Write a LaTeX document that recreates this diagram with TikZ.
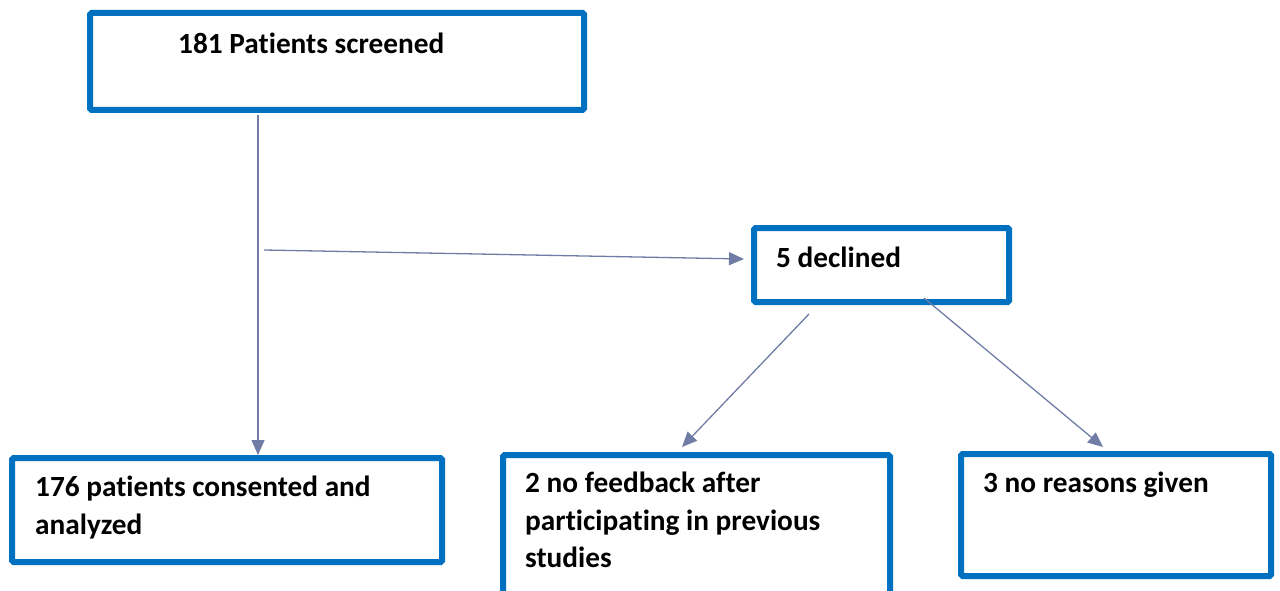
\documentclass[tikz,border=0pt]{standalone}
\usepackage{fontspec}
\setmainfont{Carlito}[Ligatures=NoCommon]
\usetikzlibrary{arrows.meta}
\definecolor{boxblue}{RGB}{0,112,192}
\definecolor{arrgray}{RGB}{112,124,166}
\begin{document}
\begin{tikzpicture}[x=1pt,y=-1pt,
  flowbox/.style={draw=boxblue, line width=6pt, rounded corners=1.5pt, rectangle, inner sep=0pt, fill=white},
  txt/.style={anchor=north west, inner sep=0pt, align=left, font=\fontsize{29.3}{37.5}\selectfont\bfseries},
  arr/.style={draw=arrgray, line width=1.3pt, -{Triangle[length=15pt,width=13pt]}}]
\useasboundingbox (0,0) rectangle (1280,591);
% boxes (centre, border centre-line size)
\node[flowbox, minimum width=494pt, minimum height=97pt] (screen) at (337,61.5) {};
\node[flowbox, minimum width=255pt, minimum height=74pt] (decl) at (881.5,265) {};
\node[flowbox, minimum width=430pt, minimum height=104pt] (consent) at (227,510) {};
\node[flowbox, minimum width=387pt, minimum height=142pt] (feedback) at (696.5,526) {};
\node[flowbox, minimum width=310pt, minimum height=122pt] (reasons) at (1116,515) {};
% texts (top = baseline - strut height)
\node[txt] (t1) at (178,27.3) {\strut 181 Patients screened};
\node[txt] (t2) at (776,241.3) {\strut 5 declined};
\node[txt] (t3) at (35,470.3) {\strut 176 patients consented and\\analyzed};
\node[txt] (t4) at (525,466.3) {\strut 2 no feedback after\\participating in previous\\studies};
\node[txt] (t5) at (983,466.3) {\strut 3 no reasons given};
% connector start points
\coordinate (v1) at (258,115);
\coordinate (h1) at (264,250);
\coordinate (d1) at (809,314);
\coordinate (d2) at (924,298);
% connectors
\draw[arr] (v1) -- (v1 |- consent.north);
\draw[arr] (h1) -- ([xshift=-7pt,yshift=6pt]decl.west);
\draw[arr] (d1) -- ([xshift=-14.5pt,yshift=5pt]feedback.north);
\draw[arr] (d2) -- ([xshift=-13pt,yshift=4pt]reasons.north);
\end{tikzpicture}
\end{document}
